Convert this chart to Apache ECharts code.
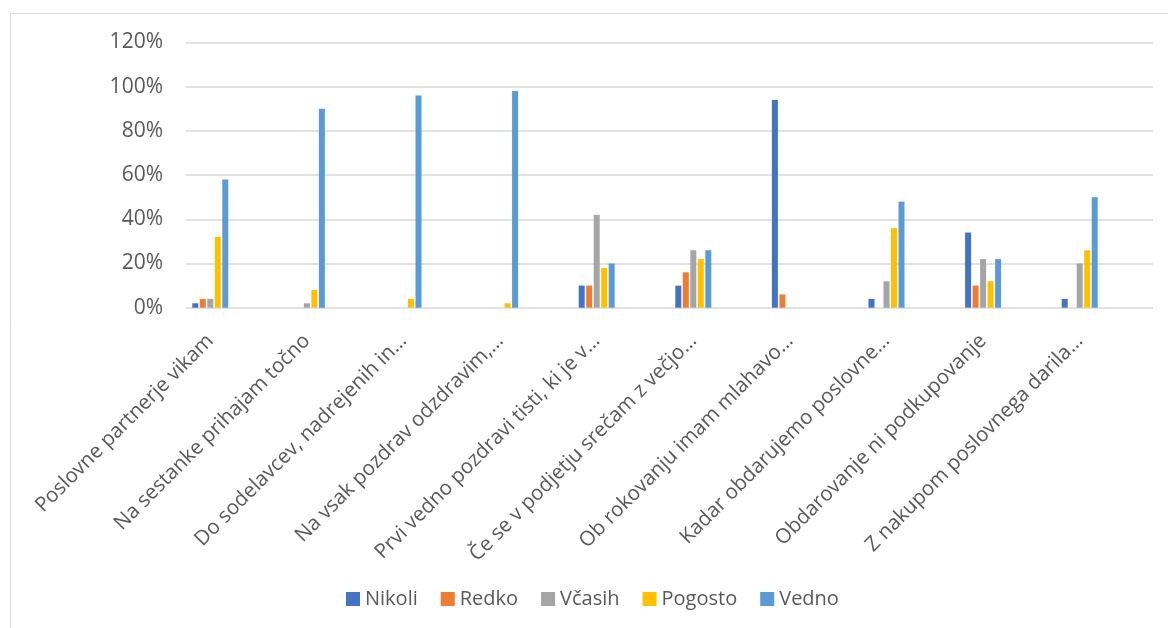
<!DOCTYPE html>
<html>
<head>
<meta charset="utf-8">
<script src="https://cdn.jsdelivr.net/npm/echarts@6/dist/echarts.min.js"></script>
<style>
  html, body { margin: 0; padding: 0; background: #fff; }
  #chart { width: 1168px; height: 628px; }
</style>
</head>
<body>
<div id="chart"></div>
<script>
// Survey statements (category axis labels)
const categories = [
  'Poslovne partnerje vikam',
  'Na sestanke prihajam točno',
  'Do sodelavcev, nadrejenih in…',
  'Na vsak pozdrav odzdravim,…',
  'Prvi vedno pozdravi tisti, ki je v…',
  'Če se v podjetju srečam z večjo…',
  'Ob rokovanju imam mlahavo…',
  'Kadar obdarujemo poslovne…',
  'Obdarovanje ni podkupovanje',
  'Z nakupom poslovnega darila…'
];

// Share of answers per statement, in percent
const nikoli  = [2, 0, 0, 0, 10, 10, 94, 4, 34, 4];
const redko   = [4, 0, 0, 0, 10, 16, 6, 0, 10, 0];
const vcasih  = [4, 2, 0, 0, 42, 26, 0, 12, 22, 20];
const pogosto = [32, 8, 4, 2, 18, 22, 0, 36, 12, 26];
const vedno   = [58, 90, 96, 98, 20, 26, 0, 48, 22, 50];

const seriesNames = ['Nikoli', 'Redko', 'Včasih', 'Pogosto', 'Vedno'];
const seriesValues = [nikoli, redko, vcasih, pogosto, vedno];
const seriesColors = ['#4472C4', '#ED7D31', '#A5A5A5', '#FFC000', '#5B9BD5'];

// Value axis ticks
const yMin = 0, yMax = 120, yStep = 20;

const font = '"Open Sans", "Noto Sans", sans-serif';
const textColor = '#595959';

const chart = echarts.init(document.getElementById('chart'), null, { renderer: 'canvas' });

chart.setOption({
  animation: false,
  backgroundColor: '#ffffff',
  graphic: [{
    type: 'polyline',
    shape: { points: [[10.5, 640], [10.5, 13.5], [1180, 13.5]] },
    style: { stroke: '#d9d9d9', lineWidth: 1, fill: null },
    silent: true
  }],
  grid: [
    // gridlines + value labels
    { left: 186, right: 15, top: 42.5, bottom: 320.3 },
    // bars + category labels
    { left: 162, right: 40, top: 42.5, bottom: 320.3 }
  ],
  xAxis: [
    { type: 'category', gridIndex: 0, data: categories, show: false },
    {
      type: 'category', gridIndex: 1, data: categories,
      axisLine: { show: false }, axisTick: { show: false },
      axisLabel: {
        rotate: 45, interval: 0, margin: 30,
        fontFamily: font, fontSize: 20.5, color: textColor
      }
    }
  ],
  yAxis: [
    {
      type: 'value', gridIndex: 0, min: yMin, max: yMax, interval: yStep,
      axisLine: { show: false }, axisTick: { show: false },
      axisLabel: {
        formatter: '{value}%', margin: 23,
        fontFamily: font, fontSize: 21, color: textColor
      },
      splitLine: { lineStyle: { color: '#d9d9d9', width: 1.5 } }
    },
    {
      type: 'value', gridIndex: 1, min: yMin, max: yMax, interval: yStep,
      show: false, splitLine: { show: false }
    }
  ],
  legend: {
    data: seriesNames,
    left: 341, top: 584,
    icon: 'rect', itemWidth: 14, itemHeight: 14, itemGap: 23,
    textStyle: { fontFamily: font, fontSize: 20, color: textColor }
  },
  series: seriesNames.map((name, i) => ({
    name,
    type: 'bar',
    xAxisIndex: 1, yAxisIndex: 1,
    data: seriesValues[i],
    barWidth: 6,
    barGap: '25%',
    itemStyle: { color: seriesColors[i] }
  }))
});
</script>
</body>
</html>
